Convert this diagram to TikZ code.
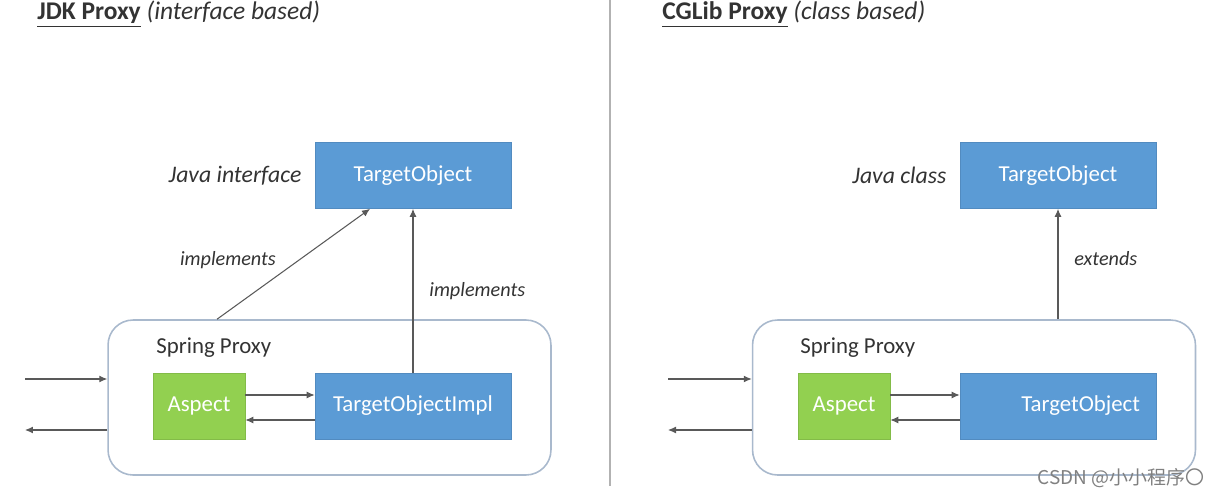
\documentclass[tikz,border=0pt]{standalone}
\usepackage{fontspec}
\setmainfont{Carlito}
\newfontfamily\cjkfont{Noto Sans CJK SC}
\usetikzlibrary{arrows.meta}

\definecolor{boxblue}{HTML}{5B9BD5}
\definecolor{boxgreen}{HTML}{92D050}
\definecolor{proxyedge}{HTML}{A9B9CD}
\definecolor{linegray}{HTML}{595959}
\definecolor{textgray}{HTML}{333333}

\begin{document}
\begin{tikzpicture}[x=0.02cm, y=-0.02cm, every node/.style={font=\fontsize{13}{15}\selectfont, text=textgray}, >={Latex[length=1.6mm, width=1.4mm]},
	objbox/.style={fill=boxblue, draw=boxblue!90!black, text=white, minimum width=3.92cm, minimum height=1.32cm, inner sep=0pt},
	aspectbox/.style={fill=boxgreen, draw=boxgreen!90!black, text=white, minimum width=1.84cm, minimum height=1.32cm, inner sep=0pt},
	proxybox/.style={draw=proxyedge, line width=0.9pt, rounded corners=0.5cm, minimum width=8.86cm, minimum height=3.1cm},
	conn/.style={->, draw=linegray, line width=0.6pt},
	tag/.style={font=\fontsize{11.5}{14}\selectfont\itshape},
	kind/.style={font=\fontsize{13.5}{16}\selectfont\itshape},
	heading/.style={font=\fontsize{14.5}{17}\selectfont, anchor=west, inner sep=0pt}]
	\useasboundingbox (0,0) rectangle (1219,496);

	% headings and divider
	\node[heading] (headL) at (37,14) {\textbf{\underline{JDK Proxy}} \textit{(interface based)}};
	\node[heading] (headR) at (662,14) {\textbf{\underline{CGLib Proxy}} \textit{(class based)}};
	\draw[gray!60, line width=0.8pt] (610,0) -- (610,486);

	% JDK proxy
	\node[objbox] (toL) at (413,175.5) {TargetObject};
	\node[kind, anchor=east, inner sep=0pt] (javaL) at ([xshift=-0.26cm]toL.west) {Java interface};
	\node[proxybox] (proxyL) at (329.5,397.5) {};
	\node[anchor=west, inner sep=0pt] (springL) at (156,348) {Spring Proxy};
	\node[aspectbox] (aspL) at (199,406) {Aspect};
	\node[objbox] (implL) at (413,406) {TargetObjectImpl};
	\coordinate (inL) at (25,379);
	\coordinate (outL) at (25,430);
	\draw[conn] (inL) -- (inL -| proxyL.west);
	\draw[conn] (outL -| proxyL.west) -- (outL);
	\draw[conn] ([yshift=0.22cm]aspL.east) -- ([yshift=0.22cm]implL.west);
	\draw[conn] ([yshift=-0.28cm]implL.west) -- ([yshift=-0.28cm]aspL.east);
	\draw[conn] ([xshift=-2.25cm]proxyL.north) -- ([xshift=-0.86cm]toL.south) node[tag, pos=0.54, left=0.35cm] {implements};
	\draw[conn] (implL.north) -- (toL.south) node[tag, midway, right=0.2cm] {implements};

	% CGLib proxy
	\node[objbox] (toR) at (1058,175.5) {TargetObject};
	\node[kind, anchor=east, inner sep=0pt] (javaR) at ([xshift=-0.26cm]toR.west) {Java class};
	\node[proxybox] (proxyR) at (974,397.5) {};
	\node[anchor=west, inner sep=0pt] (springR) at (800,348) {Spring Proxy};
	\node[aspectbox] (aspR) at (844,406) {Aspect};
	\node[objbox, text width=3.28cm, inner xsep=0.32cm, align=right] (subR) at (1058,406) {TargetObject};
	\coordinate (inR) at (668,379);
	\coordinate (outR) at (668,430);
	\draw[conn] (inR) -- (inR -| proxyR.west);
	\draw[conn] (outR -| proxyR.west) -- (outR);
	\draw[conn] ([yshift=0.22cm]aspR.east) -- ([yshift=0.22cm]subR.west);
	\draw[conn] ([yshift=-0.28cm]subR.west) -- ([yshift=-0.28cm]aspR.east);
	\draw[conn] (toR.south |- proxyR.north) -- (toR.south) node[tag, pos=0.55, right=0.2cm] {extends};

	\node[anchor=east, inner sep=0pt, text=gray, font=\fontsize{10.8}{12}\cjkfont] (mark) at (1205,478) {CSDN @小小程序〇};
\end{tikzpicture}
\end{document}
